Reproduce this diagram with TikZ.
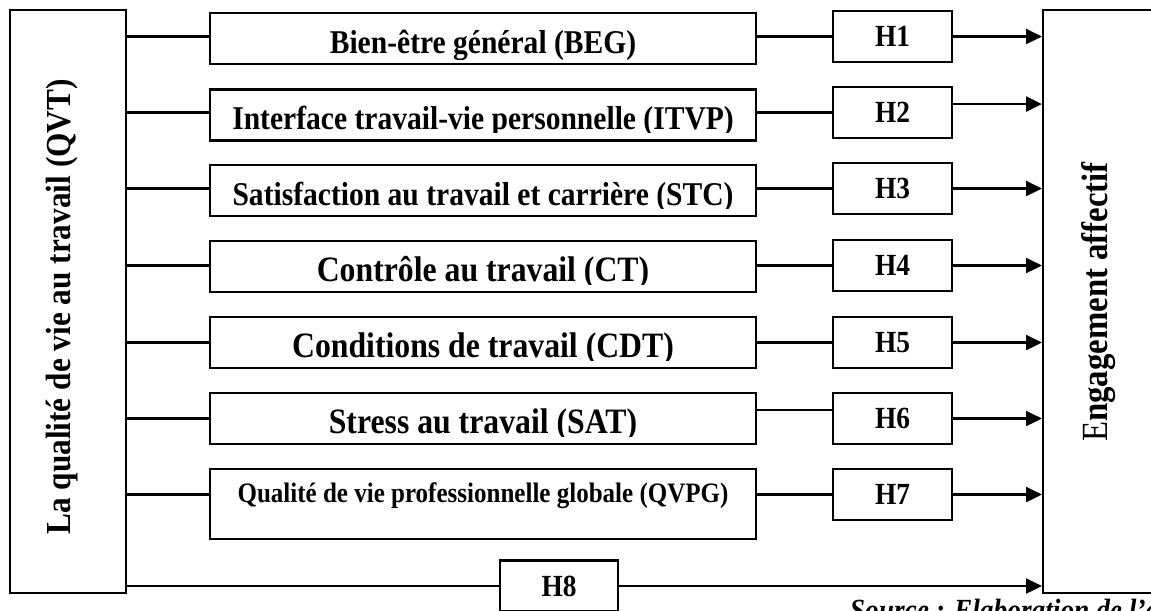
\documentclass[tikz,border=0pt]{standalone}
\usepackage{fontspec}
\setmainfont{Liberation Serif}[FakeStretch=0.89]
\usetikzlibrary{arrows.meta}

\begin{document}
\begin{tikzpicture}[x=0.02cm, y=-0.02cm, line width=1.25pt,
    box/.style ={draw, inner sep=0pt},
    factor/.style n args={3}{box, minimum width=10.92cm, minimum height=1.02cm,
      path picture={\clip ([yshift=#1]path picture bounding box.south west) rectangle (path picture bounding box.north east);
        \node[draw=none, fill=none, minimum width=0pt, minimum height=0pt, anchor=base]
          at ([yshift=#2]path picture bounding box.south) {#3};}},
    facA/.style ={font=\fontsize{18.9}{22}\selectfont\bfseries},
    facB/.style ={font=\fontsize{20.3}{24}\selectfont\bfseries},
    facC/.style ={font=\fontsize{16}{19}\selectfont\bfseries},
    hyp/.style ={box, minimum width=2.38cm, minimum height=1.02cm, font=\fontsize{17.5}{20}\selectfont\bfseries},
    link/.style ={-{Triangle[length=9pt, width=8.5pt]}}]
   \clip (0,0) rectangle (1151,610);
   % left and right blocks
   \node[box, minimum width=2.32cm, minimum height=11.66cm] (QVT) at (68,301.5) {};
   \node[rotate=90, anchor=base, font=\fontsize{20}{24}\selectfont\bfseries] (QVTtxt) at (70,307) {La qualité de vie au travail (QVT)};
   \node[box, minimum width=2.74cm, minimum height=11.66cm] (EA) at (1111.5,301.5) {};
   \node[rotate=90, anchor=base, font=\fontsize{21}{25}\selectfont\bfseries] (EAtxt) at (1107,302) {{\mdseries E}ngagement affectif};
   % dimensions
   \node[factor={2.8pt}{6pt}{Bien-être général (BEG)}, facA] (BEG) at (483,38.5) {};
   \node[factor={4.5pt}{6pt}{Interface travail-vie personnelle (ITVP)}, facA] (ITVP) at (483,115) {};
   \node[factor={4.5pt}{6pt}{Satisfaction au travail et carrière (STC)}, facA] (STC) at (483,190.5) {};
   \node[factor={4.5pt}{6pt}{Contrôle au travail (CT)}, facB] (CT) at (483,266.5) {};
   \node[factor={4.5pt}{6pt}{Conditions de travail (CDT)}, facB] (CDT) at (483,342.5) {};
   \node[factor={4.5pt}{6pt}{Stress au travail (SAT)}, facB] (SAT) at (483,418.5) {};
   \node[factor={0pt}{20.5pt}{Qualité de vie professionnelle globale (QVPG)}, facC, minimum height=1.4cm] (QVPG) at (483,504) {};
   % hypotheses
   \node[hyp] (H1) at (892.5,36.5) {H1};
   \node[hyp] (H2) at (892.5,112.5) {H2};
   \node[hyp] (H3) at (892.5,188.5) {H3};
   \node[hyp] (H4) at (892.5,265.5) {H4};
   \node[hyp] (H5) at (892.5,342.5) {H5};
   \node[hyp] (H6) at (892.5,418.5) {H6};
   \node[hyp] (H7) at (892.5,494.5) {H7};
   \node[hyp, minimum width=2.36cm] (H8) at (559,586) {H8};
   \node[anchor=base west, font=\fontsize{17.5}{20}\selectfont\bfseries\itshape] (src) at (843,620) {Source : Elaboration de l'auteur};
   % connectors
   \draw (QVT.east |- H1) -- (BEG.west |- H1);
   \draw (BEG.east |- H1) -- (H1);
   \draw[link] (H1) -- (EA.west |- H1);
   \draw (QVT.east |- H2) -- (ITVP.west |- H2);
   \draw (ITVP.east |- H2) -- (H2);
   \draw[link, transform canvas={yshift=4.8pt}] (H2) -- (EA.west |- H2);
   \draw (QVT.east |- H3) -- (STC.west |- H3);
   \draw (STC.east |- H3) -- (H3);
   \draw[link] (H3) -- (EA.west |- H3);
   \draw (QVT.east |- H4) -- (CT.west |- H4);
   \draw (CT.east |- H4) -- (H4);
   \draw[link] (H4) -- (EA.west |- H4);
   \draw (QVT.east |- H5) -- (CDT.west |- H5);
   \draw (CDT.east |- H5) -- (H5);
   \draw[link] (H5) -- (EA.west |- H5);
   \draw (QVT.east |- H6) -- (SAT.west |- H6);
   \draw[transform canvas={yshift=4.8pt}] (SAT.east |- H6) -- (H6);
   \draw[link] (H6) -- (EA.west |- H6);
   \draw (QVT.east |- H7) -- (QVPG.west |- H7);
   \draw (QVPG.east |- H7) -- (H7);
   \draw[link] (H7) -- (EA.west |- H7);
   \draw (QVT.east |- H8) -- (H8);
   \draw[link] (H8) -- (EA.west |- H8);
\end{tikzpicture}
\end{document}
